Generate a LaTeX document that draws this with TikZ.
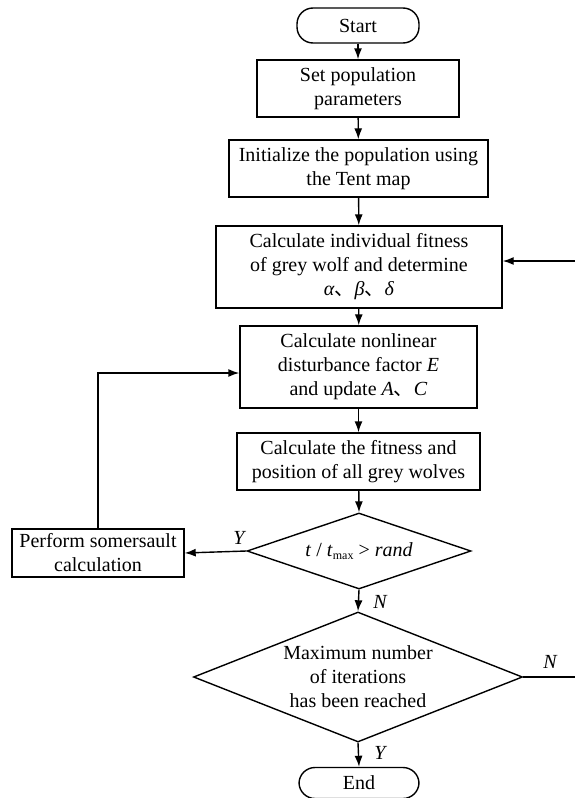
\documentclass[tikz,border=0pt]{standalone}
\usepackage{fontspec}
\setmainfont{Liberation Serif}
\newfontfamily\cjk{Noto Sans CJK SC}
\usetikzlibrary{shapes.geometric,arrows.meta}
\newcommand{\dun}{{\cjk 、}}
\begin{document}
\begin{tikzpicture}[x=1pt,y=-1pt,
  every node/.style={font=\fontsize{20}{24}\selectfont, inner sep=0pt},
  stepbox/.style={draw, line width=1.4pt, align=center},
  termbox/.style={draw, line width=1.4pt, rounded corners=16pt},
  decide/.style={draw, line width=1.4pt, diamond},
  lbl/.style={font=\fontsize{20}{24}\selectfont\itshape},
  conn/.style={line width=1.4pt, -{Latex[length=11pt,width=8pt]}},
  plain/.style={line width=1.4pt}]
\useasboundingbox (0,0) rectangle (575,798);

\node[termbox, minimum width=122pt, minimum height=35pt] (start) at (358,25.5) {Start};
\node[stepbox, minimum width=202pt, minimum height=57pt] (b2) at (358,88.5) {Set population\\parameters};
\node[stepbox, minimum width=259pt, minimum height=57pt] (b3) at (358.5,168.5) {Initialize the population using\\the Tent map};
\node[stepbox, minimum width=286pt, minimum height=82pt] (b4) at (359,267) {Calculate individual fitness\\of grey wolf and determine\\\textit{α}\dun\textit{β}\dun\textit{δ}};
\node[stepbox, minimum width=237pt, minimum height=82pt] (b5) at (358.5,367) {Calculate nonlinear\\disturbance factor \textit{E}\\and update \textit{A}\dun\textit{C}};
\node[stepbox, minimum width=243pt, minimum height=57pt] (b6) at (358.5,461.5) {Calculate the fitness and\\position of all grey wolves};
\node[decide, minimum width=224pt, minimum height=76pt] (d1) at (359,551) {};
\node (d1t) at (359,551) {\textit{t} / \textit{t}\raisebox{-0.35ex}{\fontsize{12}{14}\selectfont max} {>} \textit{rand}};
\node[stepbox, minimum width=172pt, minimum height=48pt] (som) at (98,553) {Perform somersault\\calculation};
\node[decide, minimum width=329pt, minimum height=130pt] (d2) at (358,677) {};
\node[align=center] (d2t) at (358,677) {Maximum number\\of iterations\\has been reached};
\node[termbox, minimum width=120pt, minimum height=31pt] (end) at (359,783) {End};

\coordinate (rin) at (575,261);
\coordinate (rout) at (575,677);

\draw[conn] (start) -- (b2);
\draw[conn] (b2) -- (b3);
\draw[conn] (b3) -- (b4);
\draw[conn] (b4) -- (b5);
\draw[conn] (b5) -- (b6);
\draw[conn] (b6) -- (d1.north);
\draw[conn] (d1.west) -- (som.east);
\draw[conn] (som.north) |- ([yshift=-6pt]b5.west);
\draw[conn] (d1.south) -- (d2.north);
\draw[conn] (d2.south) -- (end.north);
\draw[plain] (d2.east) -- (rout);
\draw[conn] (rin) -- (b4.east |- rin);

\node[lbl] (ly1) at (239,538) {Y};
\node[lbl] (ln1) at (380,602) {N};
\node[lbl] (ln2) at (550,662) {N};
\node[lbl] (ly2) at (380,753) {Y};
\end{tikzpicture}
\end{document}
